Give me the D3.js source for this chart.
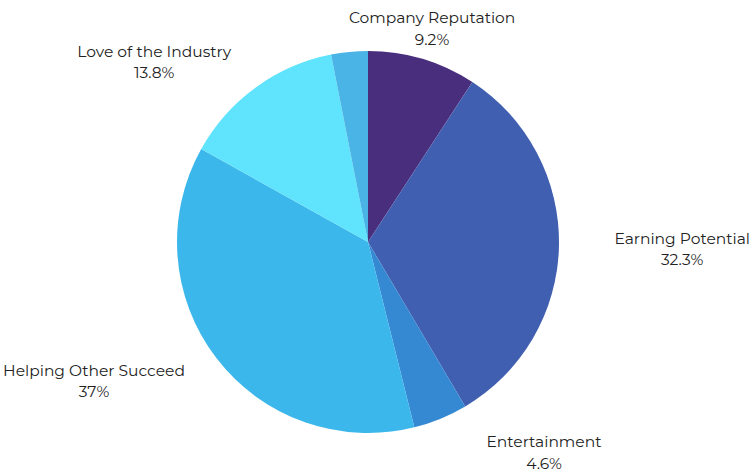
<!DOCTYPE html>
<html>
<head>
<meta charset="utf-8">
<script src="https://cdn.jsdelivr.net/npm/d3@7"></script>
<style>
  html, body { margin: 0; padding: 0; background: #fff; }
  svg text { font-family: Montserrat, Inter, "Open Sans", sans-serif; }
</style>
</head>
<body>
<svg id="chart" width="753" height="473"></svg>
<script>
// Reasons for choosing the job, share of respondents (%)
const categories = ["Company Reputation", "Earning Potential", "Entertainment",
                    "Helping Other Succeed", "Love of the Industry", "Other"];
const values = [9.2, 32.3, 4.6, 37, 13.8, 3.1];
const valueLabels = ["9.2%", "32.3%", "4.6%", "37%", "13.8%", null];
const colors = ["#4a2e7e", "#415fb0", "#3589d3", "#3cb7eb", "#60e3fd", "#4ab4e6"];

const svg = d3.select("#chart");
const width = 753;
const cx = 368, cy = 242, radius = 191;

const data = categories.map((c, i) => ({ name: c, value: values[i], label: valueLabels[i], color: colors[i] }));

const pie = d3.pie().value(d => d.value).sort(null);
const arcs = pie(data);
const arc = d3.arc().innerRadius(0).outerRadius(radius);

const g = svg.append("g").attr("transform", `translate(${cx},${cy})`);

g.selectAll("path.slice")
  .data(arcs)
  .join("path")
  .attr("class", "slice")
  .attr("d", arc)
  .attr("fill", d => d.data.color);

// Outside labels: anchor point just beyond the rim, pushed sideways
const labelR = 225;
const labels = g.selectAll("g.label")
  .data(arcs.filter(d => d.data.label))
  .join("g")
  .attr("class", "label");

labels.each(function(d) {
  const a = (d.startAngle + d.endAngle) / 2;
  const s = Math.sin(a), c = Math.cos(a);
  let x = labelR * s;
  const y = -labelR * c;
  let anchor = "middle";
  if (s > 0.3) { anchor = "start"; x += 33; }
  else if (s < -0.3) { anchor = "end"; x -= 5; }
  const t = d3.select(this).append("text")
    .attr("text-anchor", anchor)
    .attr("fill", "#222")
    .attr("font-size", 15.5);
  t.append("tspan").attr("x", x).attr("y", y - 3).text(d.data.name);
  t.append("tspan").attr("x", x).attr("y", y + 18.5).text(d.data.label);
  // centre the value line under the name line, keeping the block inside the canvas
  const bb = t.node().getBBox();
  let mid = bb.x + bb.width / 2;
  const maxMid = width - cx - 3 - bb.width / 2;
  const minMid = -cx + 3 + bb.width / 2;
  mid = Math.max(minMid, Math.min(maxMid, mid));
  t.attr("text-anchor", "middle");
  t.selectAll("tspan").attr("x", mid);
});
</script>
</body>
</html>
